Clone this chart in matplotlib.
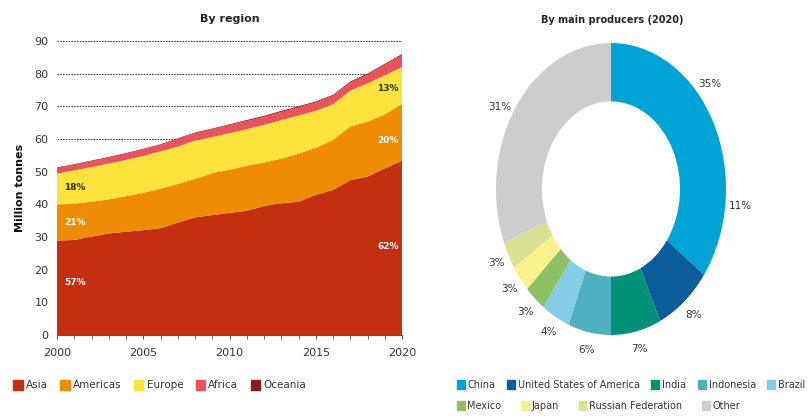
import matplotlib.pyplot as plt
from matplotlib.patches import Patch
import numpy as np

# --- By region (million tonnes) ---
years = list(range(2000, 2021))
asia = [28.9, 29.1, 30.1, 31.1, 31.6, 32.1, 32.7, 34.4, 36.0, 36.7, 37.4,
        38.0, 39.5, 40.3, 40.8, 42.9, 44.4, 47.4, 48.5, 51.0, 53.4]
americas = [10.9, 11.1, 10.7, 10.4, 10.9, 11.4, 12.1, 11.8, 11.8, 12.8, 13.2,
            13.8, 13.3, 13.7, 14.7, 14.4, 15.3, 16.4, 16.8, 16.5, 17.3]
europe = [9.7, 10.2, 10.6, 11.0, 11.1, 11.3, 11.4, 11.5, 11.7, 11.1, 11.2,
          11.2, 11.5, 11.8, 11.7, 11.3, 10.9, 11.0, 11.7, 12.0, 11.3]
africa = [1.6, 1.7, 1.8, 1.8, 1.9, 2.0, 2.0, 2.3, 2.3, 2.4, 2.5,
          2.5, 2.5, 2.5, 2.5, 2.6, 2.6, 2.5, 2.7, 3.2, 3.7]
oceania = [0.2, 0.2, 0.2, 0.2, 0.2, 0.2, 0.2, 0.2, 0.2, 0.2, 0.2,
           0.3, 0.3, 0.3, 0.3, 0.3, 0.3, 0.3, 0.3, 0.3, 0.3]
regions = ["Asia", "Americas", "Europe", "Africa", "Oceania"]
share_2000 = ["57%", "21%", "18%"]
share_2020 = ["62%", "20%", "13%"]

# --- By main producers (2020) ---
producers = ["China", "United States of America", "India", "Indonesia", "Brazil",
             "Mexico", "Japan", "Russian Federation", "Other"]
shares = [35, 8, 7, 6, 4, 3, 3, 3, 31]
extra_label = "11%"

region_colors = ["#c42f10", "#ef8c05", "#fbe23c", "#e8535c", "#8e1b1b"]
prod_colors = ["#00a3d6", "#0a5c9a", "#009178", "#4fb0c0", "#84cde4",
               "#8cc063", "#fbf28c", "#d9e193", "#cdcdcd"]
txt = "#333333"

plt.rcParams['font.family'] = ['DejaVu Sans']
fig = plt.figure(figsize=(8.1, 4.18), dpi=100)
W, H = 810, 418

def px_axes(left, top, right, bottom):
    return fig.add_axes([left / W, 1 - bottom / H, (right - left) / W, (bottom - top) / H])

# ---------------- left: stacked area ----------------
ax = px_axes(57, 41, 402, 335)
ax.stackplot(years, asia, americas, europe, africa, oceania,
             colors=region_colors, linewidth=0, zorder=2)
ax.set_xlim(2000, 2020)
ax.set_ylim(0, 90)
ax.set_yticks(range(0, 91, 10))
ax.set_xticks(range(2000, 2021, 5))
ax.set_xticks(years, minor=True)
for y in range(10, 91, 10):
    ax.axhline(y, color="#444444", lw=0.8, ls=(0, (1.5, 1)), zorder=1)
for s in ["top", "left", "right"]:
    ax.spines[s].set_visible(False)
ax.spines["bottom"].set_color("#555555")
ax.tick_params(axis="y", length=0, labelsize=8, colors=txt, pad=6)
ax.tick_params(axis="x", which="both", direction="out", length=3,
               color="#555555", labelsize=8, labelcolor=txt, pad=6)
ax.set_ylabel("Million tonnes", fontsize=8, fontweight="bold", color="#111111", labelpad=7)
ax.set_title("By region", fontsize=8, fontweight="bold", color="#222222", pad=14)

# share labels at start and end
lab_y0 = [16, 34.5, 45]
lab_y1 = [27, 59.5, 75.5]
lab_c = ["white", "white", "#333300"]
for i in range(3):
    ax.text(2000.4, lab_y0[i], share_2000[i], fontsize=6.5, fontweight="bold",
            color=lab_c[i], va="center", ha="left", zorder=3)
    ax.text(2019.8, lab_y1[i], share_2020[i], fontsize=6.5, fontweight="bold",
            color=lab_c[i], va="center", ha="right", zorder=3)

handles = [Patch(color=c) for c in region_colors]
fig.legend(handles, regions, loc="center left", bbox_to_anchor=(0.005, 1 - 385 / H),
           ncol=5, frameon=False, fontsize=7.5, handlelength=0.9, handleheight=1.1,
           handletextpad=0.3, columnspacing=1.2, labelcolor=txt)

# ---------------- right: donut ----------------
ax2 = px_axes(496, 43, 726, 335)
wedges, _ = ax2.pie(shares, colors=prod_colors, startangle=90, counterclock=False,
                    radius=1, wedgeprops=dict(width=0.4, linewidth=0))
ax2.set_aspect("auto")
ax2.set_xlim(-1, 1)
ax2.set_ylim(-1, 1)
for i, w in enumerate(wedges):
    ang = np.deg2rad((w.theta1 + w.theta2) / 2)
    r = 1.12
    if i == 0:
        ang = np.deg2rad(40)
    if i == len(wedges) - 1:
        ang = np.deg2rad(150)
    ax2.text(r * np.cos(ang), r * np.sin(ang), f"{shares[i]}%", fontsize=7.5,
             color=txt, ha="center", va="center")
ax2.text(1.13 * np.cos(np.deg2rad(-6)), 1.13 * np.sin(np.deg2rad(-6)), extra_label,
         fontsize=7.5, color=txt, ha="center", va="center")
fig.text(612 / W, 1 - 20 / H, "By main producers (2020)", fontsize=7, fontweight="bold",
         color="#222222", ha="center", va="center")

ph = [Patch(color=c) for c in prod_colors]
fig.legend(ph[:5], producers[:5], loc="center left", bbox_to_anchor=(448 / W, 1 - 385 / H),
           ncol=5, frameon=False, fontsize=7, handlelength=0.8, handleheight=1.1,
           handletextpad=0.3, columnspacing=1.2, labelcolor=txt)
fig.legend(ph[5:], producers[5:], loc="center left", bbox_to_anchor=(448 / W, 1 - 406 / H),
           ncol=4, frameon=False, fontsize=7, handlelength=0.8, handleheight=1.1,
           handletextpad=0.3, columnspacing=2.0, labelcolor=txt)

fig.savefig("out.png", dpi=100)
